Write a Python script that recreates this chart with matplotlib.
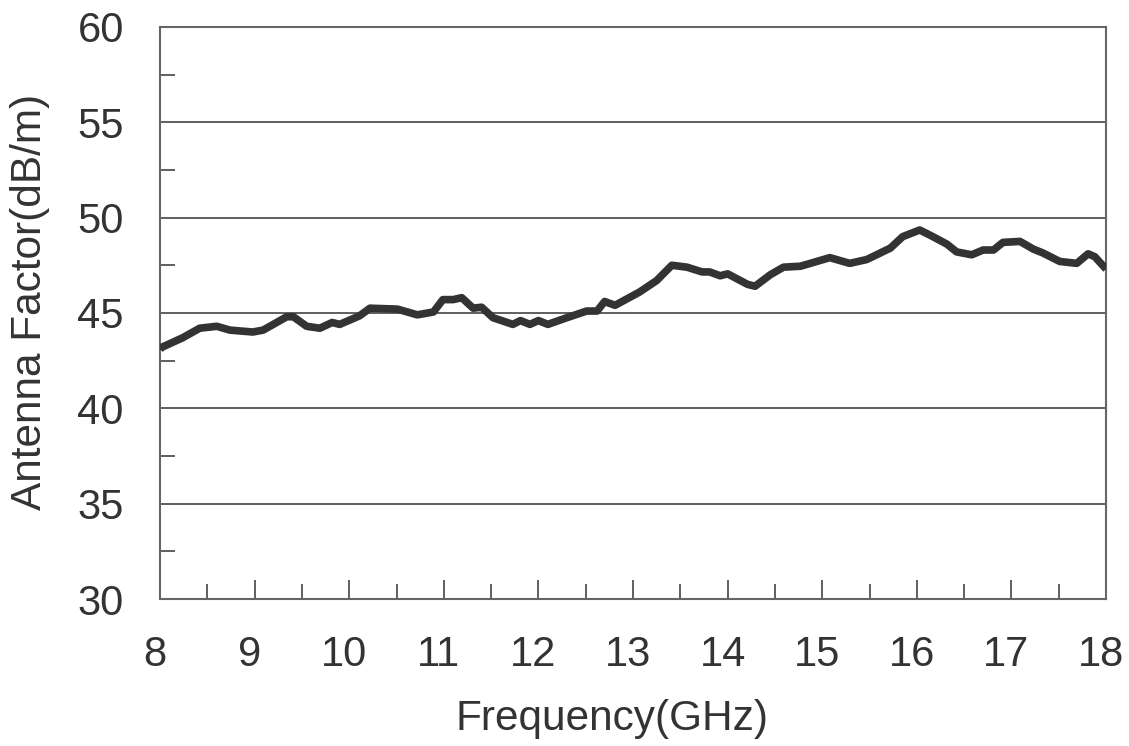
import matplotlib
matplotlib.use("Agg")
import matplotlib.pyplot as plt
import matplotlib.transforms as mtransforms
from matplotlib.ticker import MultipleLocator

# antenna factor curve (GHz, dB/m)
freq = [8.00, 8.02, 8.24, 8.42, 8.60, 8.74, 8.98, 9.09, 9.34, 9.41, 9.55, 9.69,
        9.82, 9.90, 10.04, 10.11, 10.22, 10.51, 10.72, 10.89, 10.99, 11.10, 11.19,
        11.31, 11.40, 11.52, 11.73, 11.81, 11.91, 12.00, 12.10, 12.30, 12.51,
        12.62, 12.70, 12.81, 13.07, 13.25, 13.41, 13.57, 13.73, 13.81, 13.92,
        14.00, 14.21, 14.29, 14.45, 14.59, 14.77, 15.08, 15.29, 15.47, 15.72,
        15.85, 16.03, 16.17, 16.32, 16.42, 16.58, 16.70, 16.81, 16.91, 17.09,
        17.23, 17.33, 17.51, 17.69, 17.81, 17.88, 18.00]
af = [43.1, 43.2, 43.7, 44.2, 44.3, 44.1, 44.0, 44.1, 44.8, 44.8, 44.3, 44.2,
      44.5, 44.4, 44.7, 44.85, 45.25, 45.2, 44.9, 45.05, 45.7, 45.7, 45.8,
      45.25, 45.3, 44.75, 44.4, 44.6, 44.4, 44.6, 44.4, 44.75, 45.1,
      45.1, 45.6, 45.4, 46.1, 46.7, 47.5, 47.4, 47.15, 47.15, 46.95,
      47.05, 46.5, 46.4, 47.0, 47.4, 47.45, 47.9, 47.6, 47.8, 48.4,
      49.0, 49.35, 49.0, 48.6, 48.2, 48.05, 48.3, 48.3, 48.7, 48.75,
      48.35, 48.15, 47.7, 47.6, 48.1, 47.95, 47.3]

x_ticks = [8, 9, 10, 11, 12, 13, 14, 15, 16, 17, 18]
y_ticks = [30, 35, 40, 45, 50, 55, 60]

plt.rcParams['font.family'] = ['Liberation Sans', 'DejaVu Sans']

fig = plt.figure(figsize=(11.29, 7.46), dpi=100)
ax = fig.add_axes([0.1417, 0.197, 0.838, 0.767])

for y in y_ticks[1:-1]:
    ax.axhline(y, color='#444444', lw=1.2, zorder=1)

ax.plot(freq, af, color='#333333', lw=5.5, solid_capstyle='butt',
        solid_joinstyle='round', zorder=3)

ax.set_xlim(8, 18)
ax.set_ylim(30, 60)
ax.set_xticks(x_ticks)
ax.set_yticks(y_ticks)
ax.xaxis.set_minor_locator(MultipleLocator(0.5))
ax.yaxis.set_minor_locator(MultipleLocator(2.5))
ax.tick_params(axis='both', which='both', direction='in', color='#444444',
               width=1.2, labelsize=30, labelcolor='#333333')
ax.tick_params(axis='x', which='major', length=14, pad=26)
ax.tick_params(axis='x', which='minor', length=11)
ax.tick_params(axis='y', which='major', length=0, pad=26)
ax.tick_params(axis='y', which='minor', length=11)
ax.tick_params(top=False, right=False, which='both')

# x labels sit a few pixels left of their ticks in the original
shift = mtransforms.ScaledTranslation(-5 / 100, 0, fig.dpi_scale_trans)
for lbl in ax.get_xticklabels():
    lbl.set_transform(lbl.get_transform() + shift)

for s in ax.spines.values():
    s.set_color('#666666')
    s.set_linewidth(1.5)

ax.set_xlabel('Frequency(GHz)', fontsize=30.5, color='#333333', va='center')
ax.xaxis.set_label_coords(0.478, -0.2098)
ax.set_ylabel('Antenna Factor(dB/m)', fontsize=30.5, color='#333333', va='center')
ax.yaxis.set_label_coords(-0.1374, 0.519)

fig.savefig('out.png', dpi=100)
